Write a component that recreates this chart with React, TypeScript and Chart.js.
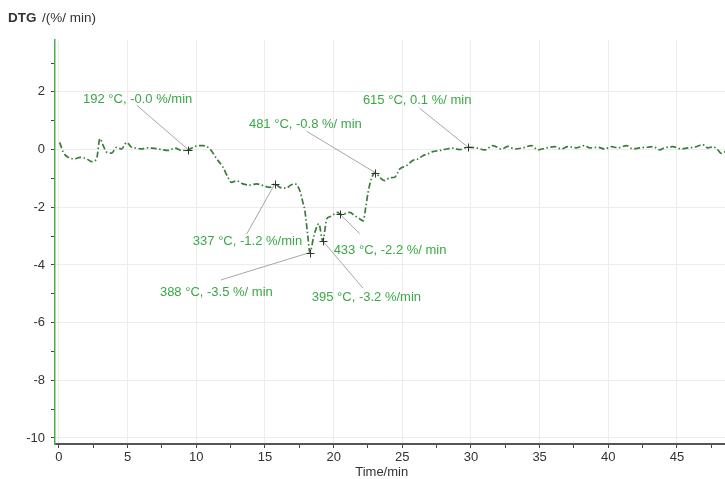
import React, { useEffect, useRef } from "react";
import { Chart, registerables } from "chart.js";

Chart.register(...registerables);

// ---- data ----
const timeMin = [
  0.05, 0.31, 0.68, 1.16, 1.53, 2.02, 2.38, 2.74, 2.98, 3.22, 3.47, 3.84, 4.2, 4.56, 4.93, 5.29,
  5.65, 6.02, 6.4, 6.75, 7.1, 7.47, 7.95, 8.44, 8.93, 9.41, 9.97, 10.48, 10.99, 11.48, 11.94,
  12.3, 12.57, 12.93, 13.39, 13.9, 14.39, 14.87, 15.36, 15.72, 16.08, 16.57, 16.81, 17.18,
  17.54, 17.76, 17.9, 18.12, 18.27, 18.56, 18.92, 19.21, 19.5, 19.72, 20.0, 20.3, 20.49,
  20.82, 21.18, 21.54, 21.83, 22.15, 22.34, 22.51, 22.76, 23.03, 23.36, 23.73, 24.09, 24.45,
  24.82, 25.31, 25.76, 26.13, 26.5, 26.86, 27.22, 27.73, 28.22, 28.68, 29.18, 29.79, 30.4,
  31.0, 31.6, 32.22, 32.7, 33.19, 33.79, 34.4, 34.88, 35.49, 36.1, 36.59, 37.07, 37.68,
  38.28, 38.65, 39.25, 39.74, 40.23, 40.71, 41.32, 41.8, 42.29, 42.78, 43.26, 43.74, 44.1,
  44.71, 45.32, 45.8, 46.29, 46.88, 47.25, 47.62, 47.98, 48.23, 48.6,
];
const dtgValues = [
  0.25, -0.09, -0.27, -0.32, -0.27, -0.32, -0.42, -0.32, 0.38, 0.14, -0.09, -0.12, 0.08, 0.02,
  0.25, 0.08, 0.05, 0.02, 0.06, 0.05, 0.03, 0.0, -0.03, 0.05, -0.03, 0.0, 0.12, 0.14, 0.02,
  -0.32, -0.61, -0.96, -1.14, -1.08, -1.19, -1.23, -1.19, -1.25, -1.31, -1.19, -1.31, -1.34,
  -1.25, -1.19, -1.43, -1.83, -2.1, -3.0, -3.57, -3.0, -2.57, -3.17, -2.4, -2.33, -2.25, -2.18,
  -2.25, -2.22, -2.18, -2.3, -2.38, -2.47, -2.0, -1.48, -1.0, -0.8, -0.96, -1.08, -0.98, -0.96,
  -0.67, -0.56, -0.38, -0.33, -0.21, -0.15, -0.07, -0.03, 0.02, 0.05, 0.0, 0.08, 0.06, -0.01,
  0.14, 0.02, 0.11, 0.02, 0.06, 0.14, -0.01, 0.06, 0.1, 0.02, 0.1, 0.06, 0.14, 0.06, 0.08,
  0.02, 0.1, 0.06, 0.14, 0.02, 0.06, 0.08, 0.1, -0.01, 0.06, 0.1, 0.02, 0.06, 0.08, 0.17, 0.06,
  0.1, -0.01, -0.13, -0.05,
];

// annotated points
const peakLabels = [
  "192 °C, -0.0 %/min",
  "337 °C, -1.2 %/min",
  "388 °C, -3.5 %/ min",
  "395 °C, -3.2 %/min",
  "433 °C, -2.2 %/ min",
  "481 °C, -0.8 %/ min",
  "615 °C, 0.1 %/ min",
];
const peakTimes = [9.41, 15.72, 18.27, 19.21, 20.49, 23.03, 29.79];
const peakValues = [0.0, -1.19, -3.57, -3.17, -2.25, -0.8, 0.08];

// axis ticks
const xTickValues = [0, 2.5, 5, 7.5, 10, 12.5, 15, 17.5, 20, 22.5, 25, 27.5, 30, 32.5, 35, 37.5, 40, 42.5, 45, 47.5];
const xLabelStep = 5;
const yTickValues = [-10, -9, -8, -7, -6, -5, -4, -3, -2, -1, 0, 1, 2, 3];
const yLabelStep = 2;
const xTitle = "Time/min";
const yTitle = ["DTG", "/(%/ min)"];

// ---- layout (label placement, in data units) ----
const labelAnchors = [
  { tx: 1.75, ty: 1.74, lx: 5.68, ly: 1.53 },
  { tx: 9.75, ty: -3.17, lx: 13.68, ly: -2.92 },
  { tx: 7.35, ty: -4.97, lx: 11.79, ly: -4.52 },
  { tx: 18.41, ty: -5.11, lx: 22.13, ly: -4.8 },
  { tx: 20.0, ty: -3.51, lx: 21.9, ly: -2.92 },
  { tx: 13.83, ty: 0.87, lx: 18.05, ly: 0.63 },
  { tx: 22.13, ty: 1.7, lx: 26.27, ly: 1.43 },
];

const TEXT_FONT = '"Liberation Sans", Arial, sans-serif';

const annotationPlugin = {
  id: "dtgAnnotations",
  afterDatasetsDraw(chart: any) {
    const { ctx, scales } = chart;
    const xs = scales.x;
    const ys = scales.y;
    ctx.save();
    labelAnchors.forEach((a, i) => {
      const px = xs.getPixelForValue(peakTimes[i]);
      const py = ys.getPixelForValue(peakValues[i]);
      ctx.strokeStyle = "rgba(150,150,150,0.85)";
      ctx.lineWidth = 1;
      ctx.beginPath();
      ctx.moveTo(xs.getPixelForValue(a.lx), ys.getPixelForValue(a.ly));
      ctx.lineTo(px, py);
      ctx.stroke();
    });
    peakTimes.forEach((t, i) => {
      const px = Math.round(xs.getPixelForValue(t)) + 0.5;
      const py = Math.round(ys.getPixelForValue(peakValues[i])) + 0.5;
      ctx.strokeStyle = "#333";
      ctx.lineWidth = 1;
      ctx.beginPath();
      ctx.moveTo(px - 4, py);
      ctx.lineTo(px + 4, py);
      ctx.moveTo(px, py - 4);
      ctx.lineTo(px, py + 4);
      ctx.stroke();
    });
    ctx.font = `13px ${TEXT_FONT}`;
    ctx.fillStyle = "#3aa845";
    ctx.textAlign = "left";
    ctx.textBaseline = "middle";
    labelAnchors.forEach((a, i) => {
      ctx.fillText(peakLabels[i], xs.getPixelForValue(a.tx), ys.getPixelForValue(a.ty));
    });
    ctx.fillStyle = "#333";
    ctx.textAlign = "center";
    ctx.font = `13px ${TEXT_FONT}`;
    ctx.fillText(xTitle, xs.getPixelForValue(23.5), 472);
    ctx.textAlign = "left";
    ctx.font = `bold 13.5px ${TEXT_FONT}`;
    ctx.fillText(yTitle[0], 8, 18);
    ctx.font = `13.5px ${TEXT_FONT}`;
    ctx.fillText(yTitle[1], 42, 18);
    ctx.restore();
  },
};

const isMultiple = (v: number, step: number) => Math.abs(v / step - Math.round(v / step)) < 1e-6;

export default function App() {
  const ref = useRef<HTMLCanvasElement>(null);
  useEffect(() => {
    if (!ref.current) return;
    const chart = new Chart(ref.current, {
      type: "line",
      data: {
        datasets: [
          {
            data: timeMin.map((t, i) => ({ x: t, y: dtgValues[i] })),
            borderColor: "#3b7c3b",
            borderWidth: 1.7,
            borderDash: [6, 2.5, 1.5, 2.5],
            pointRadius: 0,
            fill: false,
            cubicInterpolationMode: "monotone",
          },
        ],
      },
      options: {
        animation: false,
        responsive: false,
        devicePixelRatio: 1,
        layout: { padding: { top: 40, right: 0, left: 0, bottom: 0 } },
        plugins: { legend: { display: false }, tooltip: { enabled: false }, title: { display: false } },
        scales: {
          x: {
            type: "linear",
            min: -0.29,
            max: 48.5,
            afterFit: (s: any) => {
              s.height = 35;
            },
            afterBuildTicks: (s: any) => {
              s.ticks = xTickValues.map((v) => ({ value: v }));
            },
            ticks: {
              autoSkip: false,
              maxRotation: 0,
              padding: 2,
              color: "#333",
              font: { family: TEXT_FONT, size: 13 },
              callback: (v: any) => (isMultiple(Number(v), xLabelStep) ? String(v) : ""),
            },
            grid: {
              color: (c: any) => (c.tick && isMultiple(c.tick.value, xLabelStep) ? "#ececec" : "rgba(0,0,0,0)"),
              tickColor: "#444",
              tickLength: 4,
              drawTicks: true,
            },
            border: { color: "#555", width: 2 },
          },
          y: {
            type: "linear",
            min: -10.21,
            max: 3.8,
            afterFit: (s: any) => {
              s.width = 55;
            },
            afterBuildTicks: (s: any) => {
              s.ticks = yTickValues.map((v) => ({ value: v }));
            },
            ticks: {
              autoSkip: false,
              padding: 6,
              color: "#333",
              font: { family: TEXT_FONT, size: 13 },
              callback: (v: any) => (isMultiple(Number(v), yLabelStep) ? String(v) : ""),
            },
            grid: {
              color: (c: any) => (c.tick && isMultiple(c.tick.value, yLabelStep) ? "#ececec" : "rgba(0,0,0,0)"),
              tickColor: "#444",
              tickLength: 4,
            },
            border: { color: "#4cb050", width: 1.5 },
          },
        },
      },
      plugins: [annotationPlugin],
    } as any);
    return () => chart.destroy();
  }, []);

  return (
    <div style={{ position: "fixed", left: 0, top: 0, width: 725, height: 479, background: "#fff" }}>
      <canvas ref={ref} width={725} height={479} />
    </div>
  );
}
